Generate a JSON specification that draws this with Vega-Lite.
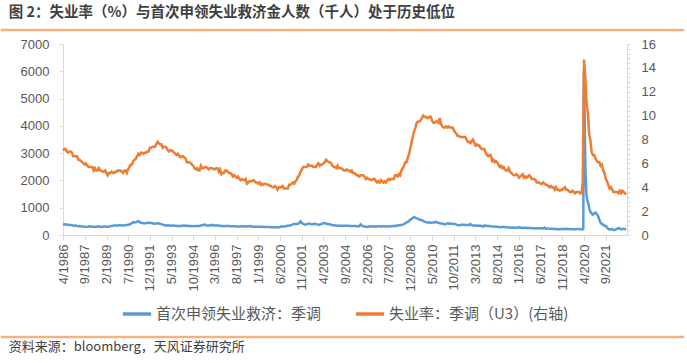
{
  "$schema": "https://vega.github.io/schema/vega-lite/v6.json",
  "background": "white",
  "padding": {"left": 0, "top": 5, "right": 4, "bottom": 5},
  "title": {"text": "图 2：失业率（%）与首次申领失业救济金人数（千人）处于历史低位", "anchor": "start", "frame": "bounds", "dx": 8, "offset": 8, "fontSize": 14.5, "font": "Noto Sans CJK SC", "fontWeight": "bold", "color": "#3F3F3F"},
  "spacing": 6,
  "columns": 1,
  "align": "none",
  "resolve": {"legend": {"color": "independent"}, "scale": {"x": "independent", "y": "independent"}},
  "datasets": {
    "sep": [{"a": 0, "b": 1}],
    "rate": [
      {"d":"1986-04","v":7.1},{"d":"1986-05","v":7.2},{"d":"1986-06","v":7.2},{"d":"1986-07","v":7.0},{"d":"1986-08","v":6.9},{"d":"1986-09","v":7.0},{"d":"1986-10","v":7.0},{"d":"1986-11","v":6.9},{"d":"1986-12","v":6.6},
      {"d":"1987-01","v":6.6},{"d":"1987-02","v":6.6},{"d":"1987-03","v":6.6},{"d":"1987-04","v":6.3},{"d":"1987-05","v":6.3},{"d":"1987-06","v":6.2},{"d":"1987-07","v":6.1},{"d":"1987-08","v":6.0},{"d":"1987-09","v":5.9},{"d":"1987-10","v":6.0},{"d":"1987-11","v":5.8},{"d":"1987-12","v":5.7},
      {"d":"1988-01","v":5.7},{"d":"1988-02","v":5.7},{"d":"1988-03","v":5.7},{"d":"1988-04","v":5.4},{"d":"1988-05","v":5.6},{"d":"1988-06","v":5.4},{"d":"1988-07","v":5.4},{"d":"1988-08","v":5.6},{"d":"1988-09","v":5.4},{"d":"1988-10","v":5.4},{"d":"1988-11","v":5.3},{"d":"1988-12","v":5.3},
      {"d":"1989-01","v":5.4},{"d":"1989-02","v":5.2},{"d":"1989-03","v":5.0},{"d":"1989-04","v":5.2},{"d":"1989-05","v":5.2},{"d":"1989-06","v":5.3},{"d":"1989-07","v":5.2},{"d":"1989-08","v":5.2},{"d":"1989-09","v":5.3},{"d":"1989-10","v":5.3},{"d":"1989-11","v":5.4},{"d":"1989-12","v":5.4},
      {"d":"1990-01","v":5.4},{"d":"1990-02","v":5.3},{"d":"1990-03","v":5.2},{"d":"1990-04","v":5.4},{"d":"1990-05","v":5.4},{"d":"1990-06","v":5.2},{"d":"1990-07","v":5.5},{"d":"1990-08","v":5.7},{"d":"1990-09","v":5.9},{"d":"1990-10","v":5.9},{"d":"1990-11","v":6.2},{"d":"1990-12","v":6.3},
      {"d":"1991-01","v":6.4},{"d":"1991-02","v":6.6},{"d":"1991-03","v":6.8},{"d":"1991-04","v":6.7},{"d":"1991-05","v":6.9},{"d":"1991-06","v":6.9},{"d":"1991-07","v":6.8},{"d":"1991-08","v":6.9},{"d":"1991-09","v":6.9},{"d":"1991-10","v":7.0},{"d":"1991-11","v":7.0},{"d":"1991-12","v":7.3},
      {"d":"1992-01","v":7.3},{"d":"1992-02","v":7.4},{"d":"1992-03","v":7.4},{"d":"1992-04","v":7.4},{"d":"1992-05","v":7.6},{"d":"1992-06","v":7.8},{"d":"1992-07","v":7.7},{"d":"1992-08","v":7.6},{"d":"1992-09","v":7.6},{"d":"1992-10","v":7.3},{"d":"1992-11","v":7.4},{"d":"1992-12","v":7.4},
      {"d":"1993-01","v":7.3},{"d":"1993-02","v":7.1},{"d":"1993-03","v":7.0},{"d":"1993-04","v":7.1},{"d":"1993-05","v":7.1},{"d":"1993-06","v":7.0},{"d":"1993-07","v":6.9},{"d":"1993-08","v":6.8},{"d":"1993-09","v":6.7},{"d":"1993-10","v":6.8},{"d":"1993-11","v":6.6},{"d":"1993-12","v":6.5},
      {"d":"1994-01","v":6.6},{"d":"1994-02","v":6.6},{"d":"1994-03","v":6.5},{"d":"1994-04","v":6.4},{"d":"1994-05","v":6.1},{"d":"1994-06","v":6.1},{"d":"1994-07","v":6.1},{"d":"1994-08","v":6.0},{"d":"1994-09","v":5.9},{"d":"1994-10","v":5.8},{"d":"1994-11","v":5.6},{"d":"1994-12","v":5.5},
      {"d":"1995-01","v":5.6},{"d":"1995-02","v":5.4},{"d":"1995-03","v":5.4},{"d":"1995-04","v":5.8},{"d":"1995-05","v":5.6},{"d":"1995-06","v":5.6},{"d":"1995-07","v":5.7},{"d":"1995-08","v":5.7},{"d":"1995-09","v":5.6},{"d":"1995-10","v":5.5},{"d":"1995-11","v":5.6},{"d":"1995-12","v":5.6},
      {"d":"1996-01","v":5.6},{"d":"1996-02","v":5.5},{"d":"1996-03","v":5.5},{"d":"1996-04","v":5.6},{"d":"1996-05","v":5.6},{"d":"1996-06","v":5.3},{"d":"1996-07","v":5.5},{"d":"1996-08","v":5.1},{"d":"1996-09","v":5.2},{"d":"1996-10","v":5.2},{"d":"1996-11","v":5.4},{"d":"1996-12","v":5.4},
      {"d":"1997-01","v":5.3},{"d":"1997-02","v":5.2},{"d":"1997-03","v":5.2},{"d":"1997-04","v":5.1},{"d":"1997-05","v":4.9},{"d":"1997-06","v":5.0},{"d":"1997-07","v":4.9},{"d":"1997-08","v":4.8},{"d":"1997-09","v":4.9},{"d":"1997-10","v":4.7},{"d":"1997-11","v":4.6},{"d":"1997-12","v":4.7},
      {"d":"1998-01","v":4.6},{"d":"1998-02","v":4.6},{"d":"1998-03","v":4.7},{"d":"1998-04","v":4.3},{"d":"1998-05","v":4.4},{"d":"1998-06","v":4.5},{"d":"1998-07","v":4.5},{"d":"1998-08","v":4.5},{"d":"1998-09","v":4.6},{"d":"1998-10","v":4.5},{"d":"1998-11","v":4.4},{"d":"1998-12","v":4.4},
      {"d":"1999-01","v":4.3},{"d":"1999-02","v":4.4},{"d":"1999-03","v":4.2},{"d":"1999-04","v":4.3},{"d":"1999-05","v":4.2},{"d":"1999-06","v":4.3},{"d":"1999-07","v":4.3},{"d":"1999-08","v":4.2},{"d":"1999-09","v":4.2},{"d":"1999-10","v":4.1},{"d":"1999-11","v":4.1},{"d":"1999-12","v":4.0},
      {"d":"2000-01","v":4.0},{"d":"2000-02","v":4.1},{"d":"2000-03","v":4.0},{"d":"2000-04","v":3.8},{"d":"2000-05","v":4.0},{"d":"2000-06","v":4.0},{"d":"2000-07","v":4.0},{"d":"2000-08","v":4.1},{"d":"2000-09","v":3.9},{"d":"2000-10","v":3.9},{"d":"2000-11","v":3.9},{"d":"2000-12","v":3.9},
      {"d":"2001-01","v":4.2},{"d":"2001-02","v":4.2},{"d":"2001-03","v":4.3},{"d":"2001-04","v":4.4},{"d":"2001-05","v":4.3},{"d":"2001-06","v":4.5},{"d":"2001-07","v":4.6},{"d":"2001-08","v":4.9},{"d":"2001-09","v":5.0},{"d":"2001-10","v":5.3},{"d":"2001-11","v":5.5},{"d":"2001-12","v":5.7},
      {"d":"2002-01","v":5.7},{"d":"2002-02","v":5.7},{"d":"2002-03","v":5.7},{"d":"2002-04","v":5.9},{"d":"2002-05","v":5.8},{"d":"2002-06","v":5.8},{"d":"2002-07","v":5.8},{"d":"2002-08","v":5.7},{"d":"2002-09","v":5.7},{"d":"2002-10","v":5.7},{"d":"2002-11","v":5.9},{"d":"2002-12","v":6.0},
      {"d":"2003-01","v":5.8},{"d":"2003-02","v":5.9},{"d":"2003-03","v":5.9},{"d":"2003-04","v":6.0},{"d":"2003-05","v":6.1},{"d":"2003-06","v":6.3},{"d":"2003-07","v":6.2},{"d":"2003-08","v":6.1},{"d":"2003-09","v":6.1},{"d":"2003-10","v":6.0},{"d":"2003-11","v":5.8},{"d":"2003-12","v":5.7},
      {"d":"2004-01","v":5.7},{"d":"2004-02","v":5.6},{"d":"2004-03","v":5.8},{"d":"2004-04","v":5.6},{"d":"2004-05","v":5.6},{"d":"2004-06","v":5.6},{"d":"2004-07","v":5.5},{"d":"2004-08","v":5.4},{"d":"2004-09","v":5.4},{"d":"2004-10","v":5.5},{"d":"2004-11","v":5.4},{"d":"2004-12","v":5.4},
      {"d":"2005-01","v":5.3},{"d":"2005-02","v":5.4},{"d":"2005-03","v":5.2},{"d":"2005-04","v":5.2},{"d":"2005-05","v":5.1},{"d":"2005-06","v":5.0},{"d":"2005-07","v":5.0},{"d":"2005-08","v":4.9},{"d":"2005-09","v":5.0},{"d":"2005-10","v":5.0},{"d":"2005-11","v":5.0},{"d":"2005-12","v":4.9},
      {"d":"2006-01","v":4.7},{"d":"2006-02","v":4.8},{"d":"2006-03","v":4.7},{"d":"2006-04","v":4.7},{"d":"2006-05","v":4.6},{"d":"2006-06","v":4.6},{"d":"2006-07","v":4.7},{"d":"2006-08","v":4.7},{"d":"2006-09","v":4.5},{"d":"2006-10","v":4.4},{"d":"2006-11","v":4.5},{"d":"2006-12","v":4.4},
      {"d":"2007-01","v":4.6},{"d":"2007-02","v":4.5},{"d":"2007-03","v":4.4},{"d":"2007-04","v":4.5},{"d":"2007-05","v":4.4},{"d":"2007-06","v":4.6},{"d":"2007-07","v":4.7},{"d":"2007-08","v":4.6},{"d":"2007-09","v":4.7},{"d":"2007-10","v":4.7},{"d":"2007-11","v":4.7},{"d":"2007-12","v":5.0},
      {"d":"2008-01","v":5.0},{"d":"2008-02","v":4.9},{"d":"2008-03","v":5.1},{"d":"2008-04","v":5.0},{"d":"2008-05","v":5.4},{"d":"2008-06","v":5.6},{"d":"2008-07","v":5.8},{"d":"2008-08","v":6.1},{"d":"2008-09","v":6.1},{"d":"2008-10","v":6.5},{"d":"2008-11","v":6.8},{"d":"2008-12","v":7.3},
      {"d":"2009-01","v":7.8},{"d":"2009-02","v":8.3},{"d":"2009-03","v":8.7},{"d":"2009-04","v":9.0},{"d":"2009-05","v":9.4},{"d":"2009-06","v":9.5},{"d":"2009-07","v":9.5},{"d":"2009-08","v":9.6},{"d":"2009-09","v":9.8},{"d":"2009-10","v":10.0},{"d":"2009-11","v":9.9},{"d":"2009-12","v":9.9},
      {"d":"2010-01","v":9.8},{"d":"2010-02","v":9.8},{"d":"2010-03","v":9.9},{"d":"2010-04","v":9.9},{"d":"2010-05","v":9.6},{"d":"2010-06","v":9.4},{"d":"2010-07","v":9.4},{"d":"2010-08","v":9.5},{"d":"2010-09","v":9.5},{"d":"2010-10","v":9.4},{"d":"2010-11","v":9.8},{"d":"2010-12","v":9.3},
      {"d":"2011-01","v":9.1},{"d":"2011-02","v":9.0},{"d":"2011-03","v":9.0},{"d":"2011-04","v":9.1},{"d":"2011-05","v":9.0},{"d":"2011-06","v":9.1},{"d":"2011-07","v":9.0},{"d":"2011-08","v":9.0},{"d":"2011-09","v":9.0},{"d":"2011-10","v":8.8},{"d":"2011-11","v":8.6},{"d":"2011-12","v":8.5},
      {"d":"2012-01","v":8.3},{"d":"2012-02","v":8.3},{"d":"2012-03","v":8.2},{"d":"2012-04","v":8.2},{"d":"2012-05","v":8.2},{"d":"2012-06","v":8.2},{"d":"2012-07","v":8.2},{"d":"2012-08","v":8.0},{"d":"2012-09","v":7.8},{"d":"2012-10","v":7.8},{"d":"2012-11","v":7.7},{"d":"2012-12","v":7.9},
      {"d":"2013-01","v":8.0},{"d":"2013-02","v":7.7},{"d":"2013-03","v":7.5},{"d":"2013-04","v":7.6},{"d":"2013-05","v":7.5},{"d":"2013-06","v":7.5},{"d":"2013-07","v":7.3},{"d":"2013-08","v":7.2},{"d":"2013-09","v":7.2},{"d":"2013-10","v":7.2},{"d":"2013-11","v":6.9},{"d":"2013-12","v":6.7},
      {"d":"2014-01","v":6.6},{"d":"2014-02","v":6.7},{"d":"2014-03","v":6.7},{"d":"2014-04","v":6.2},{"d":"2014-05","v":6.3},{"d":"2014-06","v":6.1},{"d":"2014-07","v":6.2},{"d":"2014-08","v":6.1},{"d":"2014-09","v":5.9},{"d":"2014-10","v":5.7},{"d":"2014-11","v":5.8},{"d":"2014-12","v":5.6},
      {"d":"2015-01","v":5.7},{"d":"2015-02","v":5.5},{"d":"2015-03","v":5.4},{"d":"2015-04","v":5.4},{"d":"2015-05","v":5.6},{"d":"2015-06","v":5.3},{"d":"2015-07","v":5.2},{"d":"2015-08","v":5.1},{"d":"2015-09","v":5.0},{"d":"2015-10","v":5.0},{"d":"2015-11","v":5.1},{"d":"2015-12","v":5.0},
      {"d":"2016-01","v":4.8},{"d":"2016-02","v":4.9},{"d":"2016-03","v":5.0},{"d":"2016-04","v":5.1},{"d":"2016-05","v":4.8},{"d":"2016-06","v":4.9},{"d":"2016-07","v":4.8},{"d":"2016-08","v":4.9},{"d":"2016-09","v":5.0},{"d":"2016-10","v":4.9},{"d":"2016-11","v":4.7},{"d":"2016-12","v":4.7},
      {"d":"2017-01","v":4.7},{"d":"2017-02","v":4.6},{"d":"2017-03","v":4.4},{"d":"2017-04","v":4.4},{"d":"2017-05","v":4.4},{"d":"2017-06","v":4.3},{"d":"2017-07","v":4.3},{"d":"2017-08","v":4.4},{"d":"2017-09","v":4.3},{"d":"2017-10","v":4.2},{"d":"2017-11","v":4.2},{"d":"2017-12","v":4.1},
      {"d":"2018-01","v":4.0},{"d":"2018-02","v":4.1},{"d":"2018-03","v":4.0},{"d":"2018-04","v":4.0},{"d":"2018-05","v":3.8},{"d":"2018-06","v":4.0},{"d":"2018-07","v":3.8},{"d":"2018-08","v":3.8},{"d":"2018-09","v":3.7},{"d":"2018-10","v":3.8},{"d":"2018-11","v":3.8},{"d":"2018-12","v":3.9},
      {"d":"2019-01","v":4.0},{"d":"2019-02","v":3.8},{"d":"2019-03","v":3.8},{"d":"2019-04","v":3.7},{"d":"2019-05","v":3.6},{"d":"2019-06","v":3.6},{"d":"2019-07","v":3.7},{"d":"2019-08","v":3.6},{"d":"2019-09","v":3.5},{"d":"2019-10","v":3.6},{"d":"2019-11","v":3.6},{"d":"2019-12","v":3.6},
      {"d":"2020-01","v":3.5},{"d":"2020-02","v":3.5},{"d":"2020-03","v":4.4},{"d":"2020-04","v":14.7},{"d":"2020-05","v":13.2},{"d":"2020-06","v":11.0},{"d":"2020-07","v":10.2},{"d":"2020-08","v":8.4},{"d":"2020-09","v":7.9},{"d":"2020-10","v":6.9},{"d":"2020-11","v":6.7},{"d":"2020-12","v":6.7},
      {"d":"2021-01","v":6.4},{"d":"2021-02","v":6.2},{"d":"2021-03","v":6.1},{"d":"2021-04","v":6.1},{"d":"2021-05","v":5.8},{"d":"2021-06","v":5.9},{"d":"2021-07","v":5.4},{"d":"2021-08","v":5.2},{"d":"2021-09","v":4.7},{"d":"2021-10","v":4.5},{"d":"2021-11","v":4.2},{"d":"2021-12","v":3.9},
      {"d":"2022-01","v":4.0},{"d":"2022-02","v":3.8},{"d":"2022-03","v":3.6},{"d":"2022-04","v":3.6},{"d":"2022-05","v":3.6},{"d":"2022-06","v":3.6},{"d":"2022-07","v":3.5},{"d":"2022-08","v":3.7},{"d":"2022-09","v":3.5},{"d":"2022-10","v":3.7},{"d":"2022-11","v":3.6},{"d":"2022-12","v":3.5},
      {"d":"2023-01","v":3.4}
    ],
    "claims": [
      {"d":"1986-04","v":390},{"d":"1986-05","v":385},{"d":"1986-06","v":395},{"d":"1986-07","v":380},{"d":"1986-08","v":375},{"d":"1986-09","v":370},{"d":"1986-10","v":365},{"d":"1986-11","v":360},{"d":"1986-12","v":345},
      {"d":"1987-01","v":340},{"d":"1987-02","v":350},{"d":"1987-03","v":335},{"d":"1987-04","v":325},{"d":"1987-05","v":330},{"d":"1987-06","v":320},{"d":"1987-07","v":315},{"d":"1987-08","v":310},{"d":"1987-09","v":300},{"d":"1987-10","v":295},{"d":"1987-11","v":305},{"d":"1987-12","v":310},
      {"d":"1988-01","v":320},{"d":"1988-02","v":310},{"d":"1988-03","v":305},{"d":"1988-04","v":300},{"d":"1988-05","v":295},{"d":"1988-06","v":305},{"d":"1988-07","v":310},{"d":"1988-08","v":320},{"d":"1988-09","v":300},{"d":"1988-10","v":295},{"d":"1988-11","v":305},{"d":"1988-12","v":310},
      {"d":"1989-01","v":310},{"d":"1989-02","v":300},{"d":"1989-03","v":305},{"d":"1989-04","v":315},{"d":"1989-05","v":320},{"d":"1989-06","v":330},{"d":"1989-07","v":340},{"d":"1989-08","v":345},{"d":"1989-09","v":345},{"d":"1989-10","v":350},{"d":"1989-11","v":345},{"d":"1989-12","v":355},
      {"d":"1990-01","v":360},{"d":"1990-02","v":350},{"d":"1990-03","v":345},{"d":"1990-04","v":355},{"d":"1990-05","v":360},{"d":"1990-06","v":365},{"d":"1990-07","v":375},{"d":"1990-08","v":385},{"d":"1990-09","v":410},{"d":"1990-10","v":440},{"d":"1990-11","v":470},{"d":"1990-12","v":460},
      {"d":"1991-01","v":470},{"d":"1991-02","v":490},{"d":"1991-03","v":510},{"d":"1991-04","v":480},{"d":"1991-05","v":450},{"d":"1991-06","v":440},{"d":"1991-07","v":430},{"d":"1991-08","v":430},{"d":"1991-09","v":430},{"d":"1991-10","v":445},{"d":"1991-11","v":455},{"d":"1991-12","v":440},
      {"d":"1992-01","v":440},{"d":"1992-02","v":430},{"d":"1992-03","v":420},{"d":"1992-04","v":415},{"d":"1992-05","v":420},{"d":"1992-06","v":420},{"d":"1992-07","v":430},{"d":"1992-08","v":410},{"d":"1992-09","v":400},{"d":"1992-10","v":380},{"d":"1992-11","v":370},{"d":"1992-12","v":350},
      {"d":"1993-01","v":350},{"d":"1993-02","v":360},{"d":"1993-03","v":350},{"d":"1993-04","v":345},{"d":"1993-05","v":340},{"d":"1993-06","v":345},{"d":"1993-07","v":345},{"d":"1993-08","v":335},{"d":"1993-09","v":330},{"d":"1993-10","v":340},{"d":"1993-11","v":330},{"d":"1993-12","v":330},
      {"d":"1994-01","v":340},{"d":"1994-02","v":340},{"d":"1994-03","v":350},{"d":"1994-04","v":340},{"d":"1994-05","v":340},{"d":"1994-06","v":330},{"d":"1994-07","v":330},{"d":"1994-08","v":330},{"d":"1994-09","v":320},{"d":"1994-10","v":325},{"d":"1994-11","v":330},{"d":"1994-12","v":330},
      {"d":"1995-01","v":330},{"d":"1995-02","v":330},{"d":"1995-03","v":330},{"d":"1995-04","v":350},{"d":"1995-05","v":360},{"d":"1995-06","v":370},{"d":"1995-07","v":380},{"d":"1995-08","v":360},{"d":"1995-09","v":350},{"d":"1995-10","v":350},{"d":"1995-11","v":350},{"d":"1995-12","v":360},
      {"d":"1996-01","v":370},{"d":"1996-02","v":350},{"d":"1996-03","v":350},{"d":"1996-04","v":360},{"d":"1996-05","v":350},{"d":"1996-06","v":340},{"d":"1996-07","v":340},{"d":"1996-08","v":330},{"d":"1996-09","v":330},{"d":"1996-10","v":320},{"d":"1996-11","v":330},{"d":"1996-12","v":330},
      {"d":"1997-01","v":330},{"d":"1997-02","v":330},{"d":"1997-03","v":320},{"d":"1997-04","v":320},{"d":"1997-05","v":320},{"d":"1997-06","v":320},{"d":"1997-07","v":320},{"d":"1997-08","v":310},{"d":"1997-09","v":310},{"d":"1997-10","v":310},{"d":"1997-11","v":310},{"d":"1997-12","v":320},
      {"d":"1998-01","v":320},{"d":"1998-02","v":310},{"d":"1998-03","v":310},{"d":"1998-04","v":320},{"d":"1998-05","v":310},{"d":"1998-06","v":320},{"d":"1998-07","v":330},{"d":"1998-08","v":310},{"d":"1998-09","v":300},{"d":"1998-10","v":300},{"d":"1998-11","v":300},{"d":"1998-12","v":300},
      {"d":"1999-01","v":300},{"d":"1999-02","v":300},{"d":"1999-03","v":300},{"d":"1999-04","v":300},{"d":"1999-05","v":295},{"d":"1999-06","v":290},{"d":"1999-07","v":295},{"d":"1999-08","v":290},{"d":"1999-09","v":290},{"d":"1999-10","v":290},{"d":"1999-11","v":285},{"d":"1999-12","v":285},
      {"d":"2000-01","v":285},{"d":"2000-02","v":280},{"d":"2000-03","v":280},{"d":"2000-04","v":275},{"d":"2000-05","v":285},{"d":"2000-06","v":295},{"d":"2000-07","v":310},{"d":"2000-08","v":310},{"d":"2000-09","v":315},{"d":"2000-10","v":315},{"d":"2000-11","v":330},{"d":"2000-12","v":340},
      {"d":"2001-01","v":340},{"d":"2001-02","v":355},{"d":"2001-03","v":370},{"d":"2001-04","v":390},{"d":"2001-05","v":400},{"d":"2001-06","v":400},{"d":"2001-07","v":400},{"d":"2001-08","v":410},{"d":"2001-09","v":440},{"d":"2001-10","v":500},{"d":"2001-11","v":440},{"d":"2001-12","v":410},
      {"d":"2002-01","v":390},{"d":"2002-02","v":380},{"d":"2002-03","v":400},{"d":"2002-04","v":410},{"d":"2002-05","v":410},{"d":"2002-06","v":400},{"d":"2002-07","v":390},{"d":"2002-08","v":400},{"d":"2002-09","v":410},{"d":"2002-10","v":400},{"d":"2002-11","v":390},{"d":"2002-12","v":380},
      {"d":"2003-01","v":380},{"d":"2003-02","v":400},{"d":"2003-03","v":420},{"d":"2003-04","v":440},{"d":"2003-05","v":430},{"d":"2003-06","v":420},{"d":"2003-07","v":400},{"d":"2003-08","v":390},{"d":"2003-09","v":390},{"d":"2003-10","v":380},{"d":"2003-11","v":360},{"d":"2003-12","v":360},
      {"d":"2004-01","v":350},{"d":"2004-02","v":350},{"d":"2004-03","v":340},{"d":"2004-04","v":340},{"d":"2004-05","v":340},{"d":"2004-06","v":340},{"d":"2004-07","v":340},{"d":"2004-08","v":335},{"d":"2004-09","v":340},{"d":"2004-10","v":335},{"d":"2004-11","v":335},{"d":"2004-12","v":340},
      {"d":"2005-01","v":330},{"d":"2005-02","v":330},{"d":"2005-03","v":330},{"d":"2005-04","v":330},{"d":"2005-05","v":330},{"d":"2005-06","v":320},{"d":"2005-07","v":320},{"d":"2005-08","v":320},{"d":"2005-09","v":390},{"d":"2005-10","v":350},{"d":"2005-11","v":320},{"d":"2005-12","v":310},
      {"d":"2006-01","v":300},{"d":"2006-02","v":300},{"d":"2006-03","v":300},{"d":"2006-04","v":310},{"d":"2006-05","v":320},{"d":"2006-06","v":310},{"d":"2006-07","v":310},{"d":"2006-08","v":310},{"d":"2006-09","v":310},{"d":"2006-10","v":310},{"d":"2006-11","v":320},{"d":"2006-12","v":320},
      {"d":"2007-01","v":310},{"d":"2007-02","v":320},{"d":"2007-03","v":320},{"d":"2007-04","v":320},{"d":"2007-05","v":310},{"d":"2007-06","v":310},{"d":"2007-07","v":310},{"d":"2007-08","v":320},{"d":"2007-09","v":320},{"d":"2007-10","v":320},{"d":"2007-11","v":330},{"d":"2007-12","v":340},
      {"d":"2008-01","v":330},{"d":"2008-02","v":350},{"d":"2008-03","v":360},{"d":"2008-04","v":370},{"d":"2008-05","v":370},{"d":"2008-06","v":380},{"d":"2008-07","v":400},{"d":"2008-08","v":430},{"d":"2008-09","v":460},{"d":"2008-10","v":480},{"d":"2008-11","v":520},{"d":"2008-12","v":560},
      {"d":"2009-01","v":590},{"d":"2009-02","v":630},{"d":"2009-03","v":660},{"d":"2009-04","v":630},{"d":"2009-05","v":610},{"d":"2009-06","v":600},{"d":"2009-07","v":560},{"d":"2009-08","v":560},{"d":"2009-09","v":540},{"d":"2009-10","v":520},{"d":"2009-11","v":490},{"d":"2009-12","v":470},
      {"d":"2010-01","v":460},{"d":"2010-02","v":470},{"d":"2010-03","v":460},{"d":"2010-04","v":450},{"d":"2010-05","v":460},{"d":"2010-06","v":460},{"d":"2010-07","v":460},{"d":"2010-08","v":480},{"d":"2010-09","v":460},{"d":"2010-10","v":450},{"d":"2010-11","v":430},{"d":"2010-12","v":420},
      {"d":"2011-01","v":420},{"d":"2011-02","v":400},{"d":"2011-03","v":390},{"d":"2011-04","v":410},{"d":"2011-05","v":420},{"d":"2011-06","v":420},{"d":"2011-07","v":410},{"d":"2011-08","v":410},{"d":"2011-09","v":410},{"d":"2011-10","v":400},{"d":"2011-11","v":400},{"d":"2011-12","v":380},
      {"d":"2012-01","v":370},{"d":"2012-02","v":360},{"d":"2012-03","v":360},{"d":"2012-04","v":380},{"d":"2012-05","v":380},{"d":"2012-06","v":380},{"d":"2012-07","v":370},{"d":"2012-08","v":370},{"d":"2012-09","v":370},{"d":"2012-10","v":370},{"d":"2012-11","v":400},{"d":"2012-12","v":360},
      {"d":"2013-01","v":350},{"d":"2013-02","v":350},{"d":"2013-03","v":350},{"d":"2013-04","v":340},{"d":"2013-05","v":350},{"d":"2013-06","v":340},{"d":"2013-07","v":340},{"d":"2013-08","v":330},{"d":"2013-09","v":310},{"d":"2013-10","v":350},{"d":"2013-11","v":330},{"d":"2013-12","v":340},
      {"d":"2014-01","v":330},{"d":"2014-02","v":330},{"d":"2014-03","v":320},{"d":"2014-04","v":310},{"d":"2014-05","v":310},{"d":"2014-06","v":310},{"d":"2014-07","v":300},{"d":"2014-08","v":300},{"d":"2014-09","v":290},{"d":"2014-10","v":285},{"d":"2014-11","v":290},{"d":"2014-12","v":290},
      {"d":"2015-01","v":290},{"d":"2015-02","v":295},{"d":"2015-03","v":285},{"d":"2015-04","v":280},{"d":"2015-05","v":275},{"d":"2015-06","v":275},{"d":"2015-07","v":270},{"d":"2015-08","v":275},{"d":"2015-09","v":270},{"d":"2015-10","v":260},{"d":"2015-11","v":270},{"d":"2015-12","v":275},
      {"d":"2016-01","v":280},{"d":"2016-02","v":265},{"d":"2016-03","v":265},{"d":"2016-04","v":255},{"d":"2016-05","v":265},{"d":"2016-06","v":265},{"d":"2016-07","v":260},{"d":"2016-08","v":265},{"d":"2016-09","v":255},{"d":"2016-10","v":260},{"d":"2016-11","v":250},{"d":"2016-12","v":255},
      {"d":"2017-01","v":245},{"d":"2017-02","v":240},{"d":"2017-03","v":245},{"d":"2017-04","v":245},{"d":"2017-05","v":240},{"d":"2017-06","v":245},{"d":"2017-07","v":245},{"d":"2017-08","v":240},{"d":"2017-09","v":270},{"d":"2017-10","v":230},{"d":"2017-11","v":240},{"d":"2017-12","v":235},
      {"d":"2018-01","v":225},{"d":"2018-02","v":225},{"d":"2018-03","v":225},{"d":"2018-04","v":220},{"d":"2018-05","v":220},{"d":"2018-06","v":225},{"d":"2018-07","v":215},{"d":"2018-08","v":215},{"d":"2018-09","v":210},{"d":"2018-10","v":215},{"d":"2018-11","v":225},{"d":"2018-12","v":220},
      {"d":"2019-01","v":215},{"d":"2019-02","v":225},{"d":"2019-03","v":220},{"d":"2019-04","v":215},{"d":"2019-05","v":220},{"d":"2019-06","v":220},{"d":"2019-07","v":215},{"d":"2019-08","v":215},{"d":"2019-09","v":215},{"d":"2019-10","v":215},{"d":"2019-11","v":220},{"d":"2019-12","v":220},
      {"d":"2020-01","v":215},{"d":"2020-02","v":215},{"d":"2020-03-07","v":215},{"d":"2020-03-14","v":255},{"d":"2020-03-21","v":2900},{"d":"2020-03-28","v":6000},{"d":"2020-04-04","v":6050},{"d":"2020-04-11","v":4800},{"d":"2020-04-18","v":4100},{"d":"2020-04-25","v":3300},{"d":"2020-05-02","v":2600},{"d":"2020-05-09","v":2200},{"d":"2020-05-16","v":1900},{"d":"2020-05-23","v":1650},{"d":"2020-06-01","v":1450},{"d":"2020-06-15","v":1300},{"d":"2020-07-01","v":1200},{"d":"2020-07-15","v":1150},{"d":"2020-08-01","v":1000},{"d":"2020-08-15","v":900},{"d":"2020-09-01","v":850},{"d":"2020-10-01","v":780},{"d":"2020-11-01","v":740},{"d":"2020-12-01","v":800},
      {"d":"2021-01","v":820},{"d":"2021-02","v":760},{"d":"2021-03","v":700},{"d":"2021-04","v":560},{"d":"2021-05","v":450},{"d":"2021-06","v":400},{"d":"2021-07","v":380},{"d":"2021-08","v":340},{"d":"2021-09","v":330},{"d":"2021-10","v":270},{"d":"2021-11","v":220},{"d":"2021-12","v":200},
      {"d":"2022-01","v":215},{"d":"2022-02","v":220},{"d":"2022-03","v":180},{"d":"2022-04","v":180},{"d":"2022-05","v":205},{"d":"2022-06","v":230},{"d":"2022-07","v":250},{"d":"2022-08","v":240},{"d":"2022-09","v":205},{"d":"2022-10","v":220},{"d":"2022-11","v":230},{"d":"2022-12","v":215},
      {"d":"2023-01","v":200}
    ]
  },
  "concat": [
    {
      "width": 621, "height": 2,
      "data": {"name": "sep"},
      "mark": {"type": "rect", "fill": "#F4B183", "stroke": "#F4B183", "strokeWidth": 0.5},
      "encoding": {
        "x": {"field": "a", "type": "quantitative", "scale": {"domain": [0.0908, 1], "nice": false, "zero": false}, "axis": null},
        "x2": {"field": "b"},
        "y": {"field": "a", "type": "quantitative", "scale": {"domain": [0, 1], "nice": false, "zero": false}, "axis": null},
        "y2": {"field": "b"}
      }
    },
    {
      "width": 564, "height": 191,
      "view": {"stroke": null},
      "encoding": {
        "x": {"field": "d", "type": "temporal",
          "scale": {"type": "utc", "domain": [{"year": 1986, "month": 4, "date": 1, "utc": true}, {"year": 2023, "month": 1, "date": 20, "utc": true}]},
          "axis": {"title": null, "grid": false, "format": "%-m/%Y", "labelAngle": -90, "labelOverlap": false, "labelSeparation": 0, "tickSize": 5, "labelPadding": 4,
            "values": [
              {"year":1986,"month":4,"date":1,"utc":true},{"year":1987,"month":9,"date":1,"utc":true},{"year":1989,"month":2,"date":1,"utc":true},{"year":1990,"month":7,"date":1,"utc":true},{"year":1991,"month":12,"date":1,"utc":true},{"year":1993,"month":5,"date":1,"utc":true},{"year":1994,"month":10,"date":1,"utc":true},{"year":1996,"month":3,"date":1,"utc":true},{"year":1997,"month":8,"date":1,"utc":true},{"year":1999,"month":1,"date":1,"utc":true},{"year":2000,"month":6,"date":1,"utc":true},{"year":2001,"month":11,"date":1,"utc":true},{"year":2003,"month":4,"date":1,"utc":true},{"year":2004,"month":9,"date":1,"utc":true},{"year":2006,"month":2,"date":1,"utc":true},{"year":2007,"month":7,"date":1,"utc":true},{"year":2008,"month":12,"date":1,"utc":true},{"year":2010,"month":5,"date":1,"utc":true},{"year":2011,"month":10,"date":1,"utc":true},{"year":2013,"month":3,"date":1,"utc":true},{"year":2014,"month":8,"date":1,"utc":true},{"year":2016,"month":1,"date":1,"utc":true},{"year":2017,"month":6,"date":1,"utc":true},{"year":2018,"month":11,"date":1,"utc":true},{"year":2020,"month":4,"date":1,"utc":true},{"year":2021,"month":9,"date":1,"utc":true}
            ]}}
      },
      "layer": [
        {
          "data": {"name": "claims"},
          "mark": {"type": "line", "strokeWidth": 2.5},
          "encoding": {
            "y": {"field": "v", "type": "quantitative",
              "scale": {"domain": [0, 7000], "nice": false},
              "axis": {"orient": "left", "title": null, "grid": false, "format": "d", "values": [0, 1000, 2000, 3000, 4000, 5000, 6000, 7000], "tickSize": 4, "labelPadding": 10, "minExtent": 62, "maxExtent": 62}},
            "color": {"datum": "首次申领失业救济：季调", "type": "nominal",
              "scale": {"domain": ["首次申领失业救济：季调", "失业率：季调（U3）(右轴)"], "range": ["#5B9BD5", "#ED7D31"]},
              "legend": {"orient": "bottom", "direction": "horizontal", "title": null, "symbolType": "stroke", "symbolStrokeWidth": 3.5, "symbolSize": 800, "labelFont": "Noto Sans CJK SC", "labelFontSize": 15, "labelColor": "#595959", "columnPadding": 26, "labelLimit": 300, "offset": 0, "padding": 7, "labelOffset": 3}}
          }
        },
        {
          "data": {"name": "rate"},
          "mark": {"type": "line", "strokeWidth": 2.5},
          "encoding": {
            "y": {"field": "v", "type": "quantitative",
              "scale": {"domain": [0, 16], "nice": false},
              "axis": {"orient": "right", "title": null, "grid": false, "tickSize": 3, "labelPadding": 11, "labelOverlap": false,
                "values": [0,0.4,0.8,1.2,1.6,2,2.4,2.8,3.2,3.6,4,4.4,4.8,5.2,5.6,6,6.4,6.8,7.2,7.6,8,8.4,8.8,9.2,9.6,10,10.4,10.8,11.2,11.6,12,12.4,12.8,13.2,13.6,14,14.4,14.8,15.2,15.6,16],
                "labelExpr": "abs(datum.value - round(datum.value / 2) * 2) < 0.01 ? format(datum.value, 'd') : ''"}},
            "color": {"datum": "失业率：季调（U3）(右轴)", "type": "nominal"}
          }
        }
      ],
      "resolve": {"scale": {"y": "independent"}}
    },
    {
      "width": 621, "height": 2,
      "data": {"name": "sep"},
      "mark": {"type": "rect", "fill": "#F4B183", "stroke": "#F4B183", "strokeWidth": 0.5},
      "encoding": {
        "x": {"field": "a", "type": "quantitative", "scale": {"domain": [0.0908, 1], "nice": false, "zero": false}, "axis": null},
        "x2": {"field": "b"},
        "y": {"field": "a", "type": "quantitative", "scale": {"domain": [0, 1], "nice": false, "zero": false}, "axis": null},
        "y2": {"field": "b"}
      },
      "title": {"text": "资料来源：bloomberg，天风证券研究所", "orient": "bottom", "anchor": "start", "frame": "bounds", "dx": 8, "offset": 3, "fontSize": 13, "font": "Noto Sans CJK SC", "fontWeight": "normal", "color": "#404040"}
    }
  ],
  "config": {
    "view": {"stroke": null},
    "axis": {"domainColor": "#D9D9D9", "tickColor": "#D9D9D9", "labelColor": "#595959", "labelFont": "Liberation Sans", "labelFontSize": 13},
    "legend": {"layout": {"bottom": {"anchor": "middle"}}}
  }
}
